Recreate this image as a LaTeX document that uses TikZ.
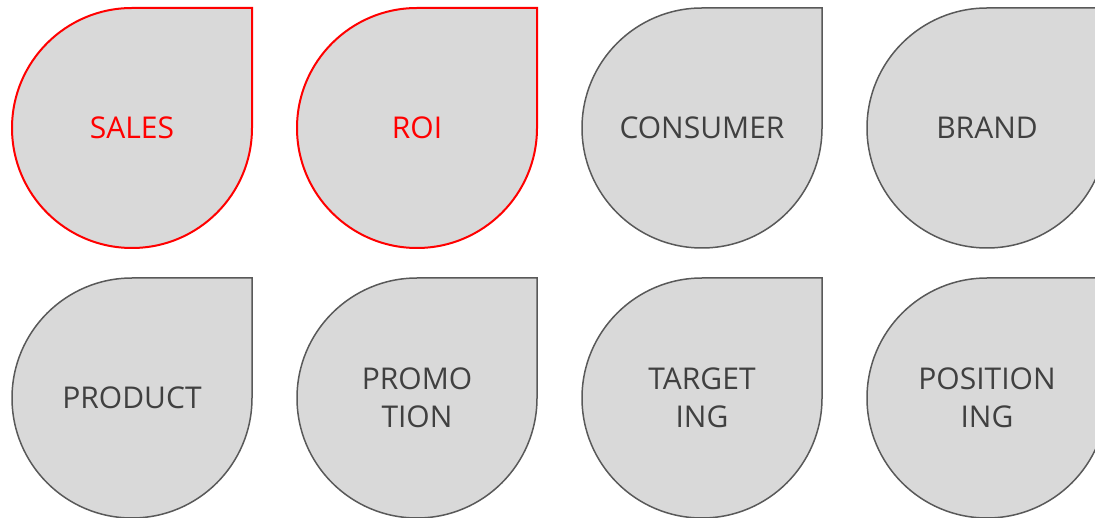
\documentclass[tikz,border=0pt]{standalone}
\usepackage{fontspec}
\setmainfont{Open Sans}
\definecolor{dropfill}{HTML}{D9D9D9}
\definecolor{dropline}{HTML}{595959}
\definecolor{droptext}{HTML}{404040}
\definecolor{hotred}{HTML}{FF0000}
\tikzset{
  droplbl/.style={text=droptext, align=center, font=\fontsize{30}{38}\selectfont, inner sep=0pt},
  hotlbl/.style={droplbl, text=hotred},
  dropshape/.style={fill=dropfill, draw=dropline, line width=1.5pt},
  hotshape/.style={fill=dropfill, draw=hotred, line width=2pt},
}
\newcommand{\teardrop}[3]{%
  \path[#3] (#1+120,#2+120) -- (#1+120,#2) arc[start angle=0, end angle=-270, radius=120] -- cycle;}
\begin{document}
\begin{tikzpicture}[x=1pt,y=1pt]
\useasboundingbox (0,0) rectangle (1095,517);
\teardrop{132}{389}{hotshape}
\teardrop{417}{389}{hotshape}
\teardrop{702}{389}{dropshape}
\teardrop{987}{389}{dropshape}
\teardrop{132}{119}{dropshape}
\teardrop{417}{119}{dropshape}
\teardrop{702}{119}{dropshape}
\teardrop{987}{119}{dropshape}
\node[hotlbl] (sales) at (132,389) {SALES};
\node[hotlbl] (roi) at (417,389) {ROI};
\node[droplbl] (consumer) at (702,389) {CONSUMER};
\node[droplbl] (brand) at (987,389) {BRAND};
\node[droplbl] (product) at (132,119) {PRODUCT};
\node[droplbl] (promotion) at (417,119) {PROMO\\TION};
\node[droplbl] (targeting) at (702,119) {TARGET\\ING};
\node[droplbl] (positioning) at (987,119) {POSITION\\ING};
\end{tikzpicture}
\end{document}
